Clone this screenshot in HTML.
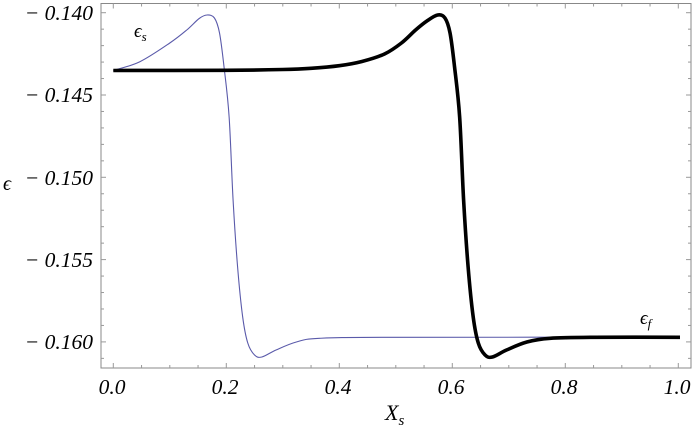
<!DOCTYPE html>
<html><head><meta charset="utf-8"><style>
html,body{margin:0;padding:0;background:#fff;}
svg{display:block;}
text{font-family:"Liberation Serif",serif;font-style:italic;fill:#000;}
</style></head><body>
<svg id="s" width="695" height="431" viewBox="0 0 695 431" xmlns="http://www.w3.org/2000/svg">
<rect x="101" y="3.5" width="590" height="364.5" fill="none" stroke="#888" stroke-width="1"/>
<g id="ticks" stroke="#999" stroke-width="1"></g>
<g font-size="21.5" text-anchor="end">
<text x="93" y="20">− 0.140</text>
<text x="93" y="102">− 0.145</text>
<text x="93" y="185">− 0.150</text>
<text x="93" y="267">− 0.155</text>
<text x="93" y="349">− 0.160</text>
</g>
<g font-size="21.5" text-anchor="middle">
<text x="112" y="394">0.0</text>
<text x="225" y="394">0.2</text>
<text x="338" y="394">0.4</text>
<text x="451" y="394">0.6</text>
<text x="564" y="394">0.8</text>
<text x="677" y="394">1.0</text>
</g>
<text x="3" y="190" font-size="20" font-style="normal">ϵ</text>
<text x="385" y="420" font-size="22">X<tspan font-size="15" dy="5">s</tspan></text>
<text x="134" y="37" font-size="19" font-style="normal">ϵ<tspan font-size="13" dy="4" font-style="italic">s</tspan></text>
<text x="640" y="324" font-size="19" font-style="normal">ϵ<tspan font-size="13" dy="4" font-style="italic">f</tspan></text>
<path id="blue" fill="none" stroke="#5a5aaa" stroke-width="1.1"/>
<path id="black" fill="none" stroke="#000" stroke-width="3.6" stroke-linejoin="round"/>
</svg>
<script>
var X=function(v){return 113.3+565*v;};
var t=document.getElementById('ticks'),h='';
for(var i=0;i<=20;i++){var x=X(i*0.05);var L=(i%4==0)?5:3;
h+='<line x1="'+x+'" y1="368" x2="'+x+'" y2="'+(368-L)+'"/><line x1="'+x+'" y1="3.5" x2="'+x+'" y2="'+(3.5+L)+'"/>';}
for(var j=-1;j<=21;j++){var y=12.7+j*16.46;if(y<4||y>367)continue;var L=(j%5==0)?5:3;
h+='<line x1="101" y1="'+y+'" x2="'+(101+L)+'" y2="'+y+'"/><line x1="691" y1="'+y+'" x2="'+(691-L)+'" y2="'+y+'"/>';}
t.innerHTML=h;
var tail=[[0.574,15],[0.587,18],[0.596,33],[0.604,67],[0.613,117],[0.62,200],[0.628,267],[0.637,317],[0.646,343],[0.658,355],[0.671,357],[0.696,350],[0.732,342],[0.773,338.3],[0.85,337.3],[1.003,337.3]];
var blk=[[0,70.5],[0.2,70.3],[0.3,69.5],[0.35,68.3],[0.4,65.7],[0.44,61.5],[0.48,54],[0.51,43],[0.535,30],[0.555,21]].concat(tail);
var blu=[[0,70.5],[0.047,61.7],[0.1,43],[0.13,30],[0.152,18.5]];
for(var k=0;k<tail.length-2;k++){blu.push([tail[k][0]-0.408,tail[k][1]]);}
blu.push([0.5,337.3]);blu.push([1.003,337.3]);
function path(pts){var P=pts.map(function(p){return [X(p[0]),p[1]];});
var d='M'+P[0][0]+','+P[0][1];
for(var i=0;i<P.length-1;i++){var p0=P[Math.max(i-1,0)],p1=P[i],p2=P[i+1],p3=P[Math.min(i+2,P.length-1)];
var c1=[p1[0]+(p2[0]-p0[0])/6,p1[1]+(p2[1]-p0[1])/6],c2=[p2[0]-(p3[0]-p1[0])/6,p2[1]-(p3[1]-p1[1])/6];
d+=' C'+c1[0]+','+c1[1]+' '+c2[0]+','+c2[1]+' '+p2[0]+','+p2[1];}
return d;}
document.getElementById('blue').setAttribute('d',path(blu));
document.getElementById('black').setAttribute('d',path(blk));
</script>
</body></html>
